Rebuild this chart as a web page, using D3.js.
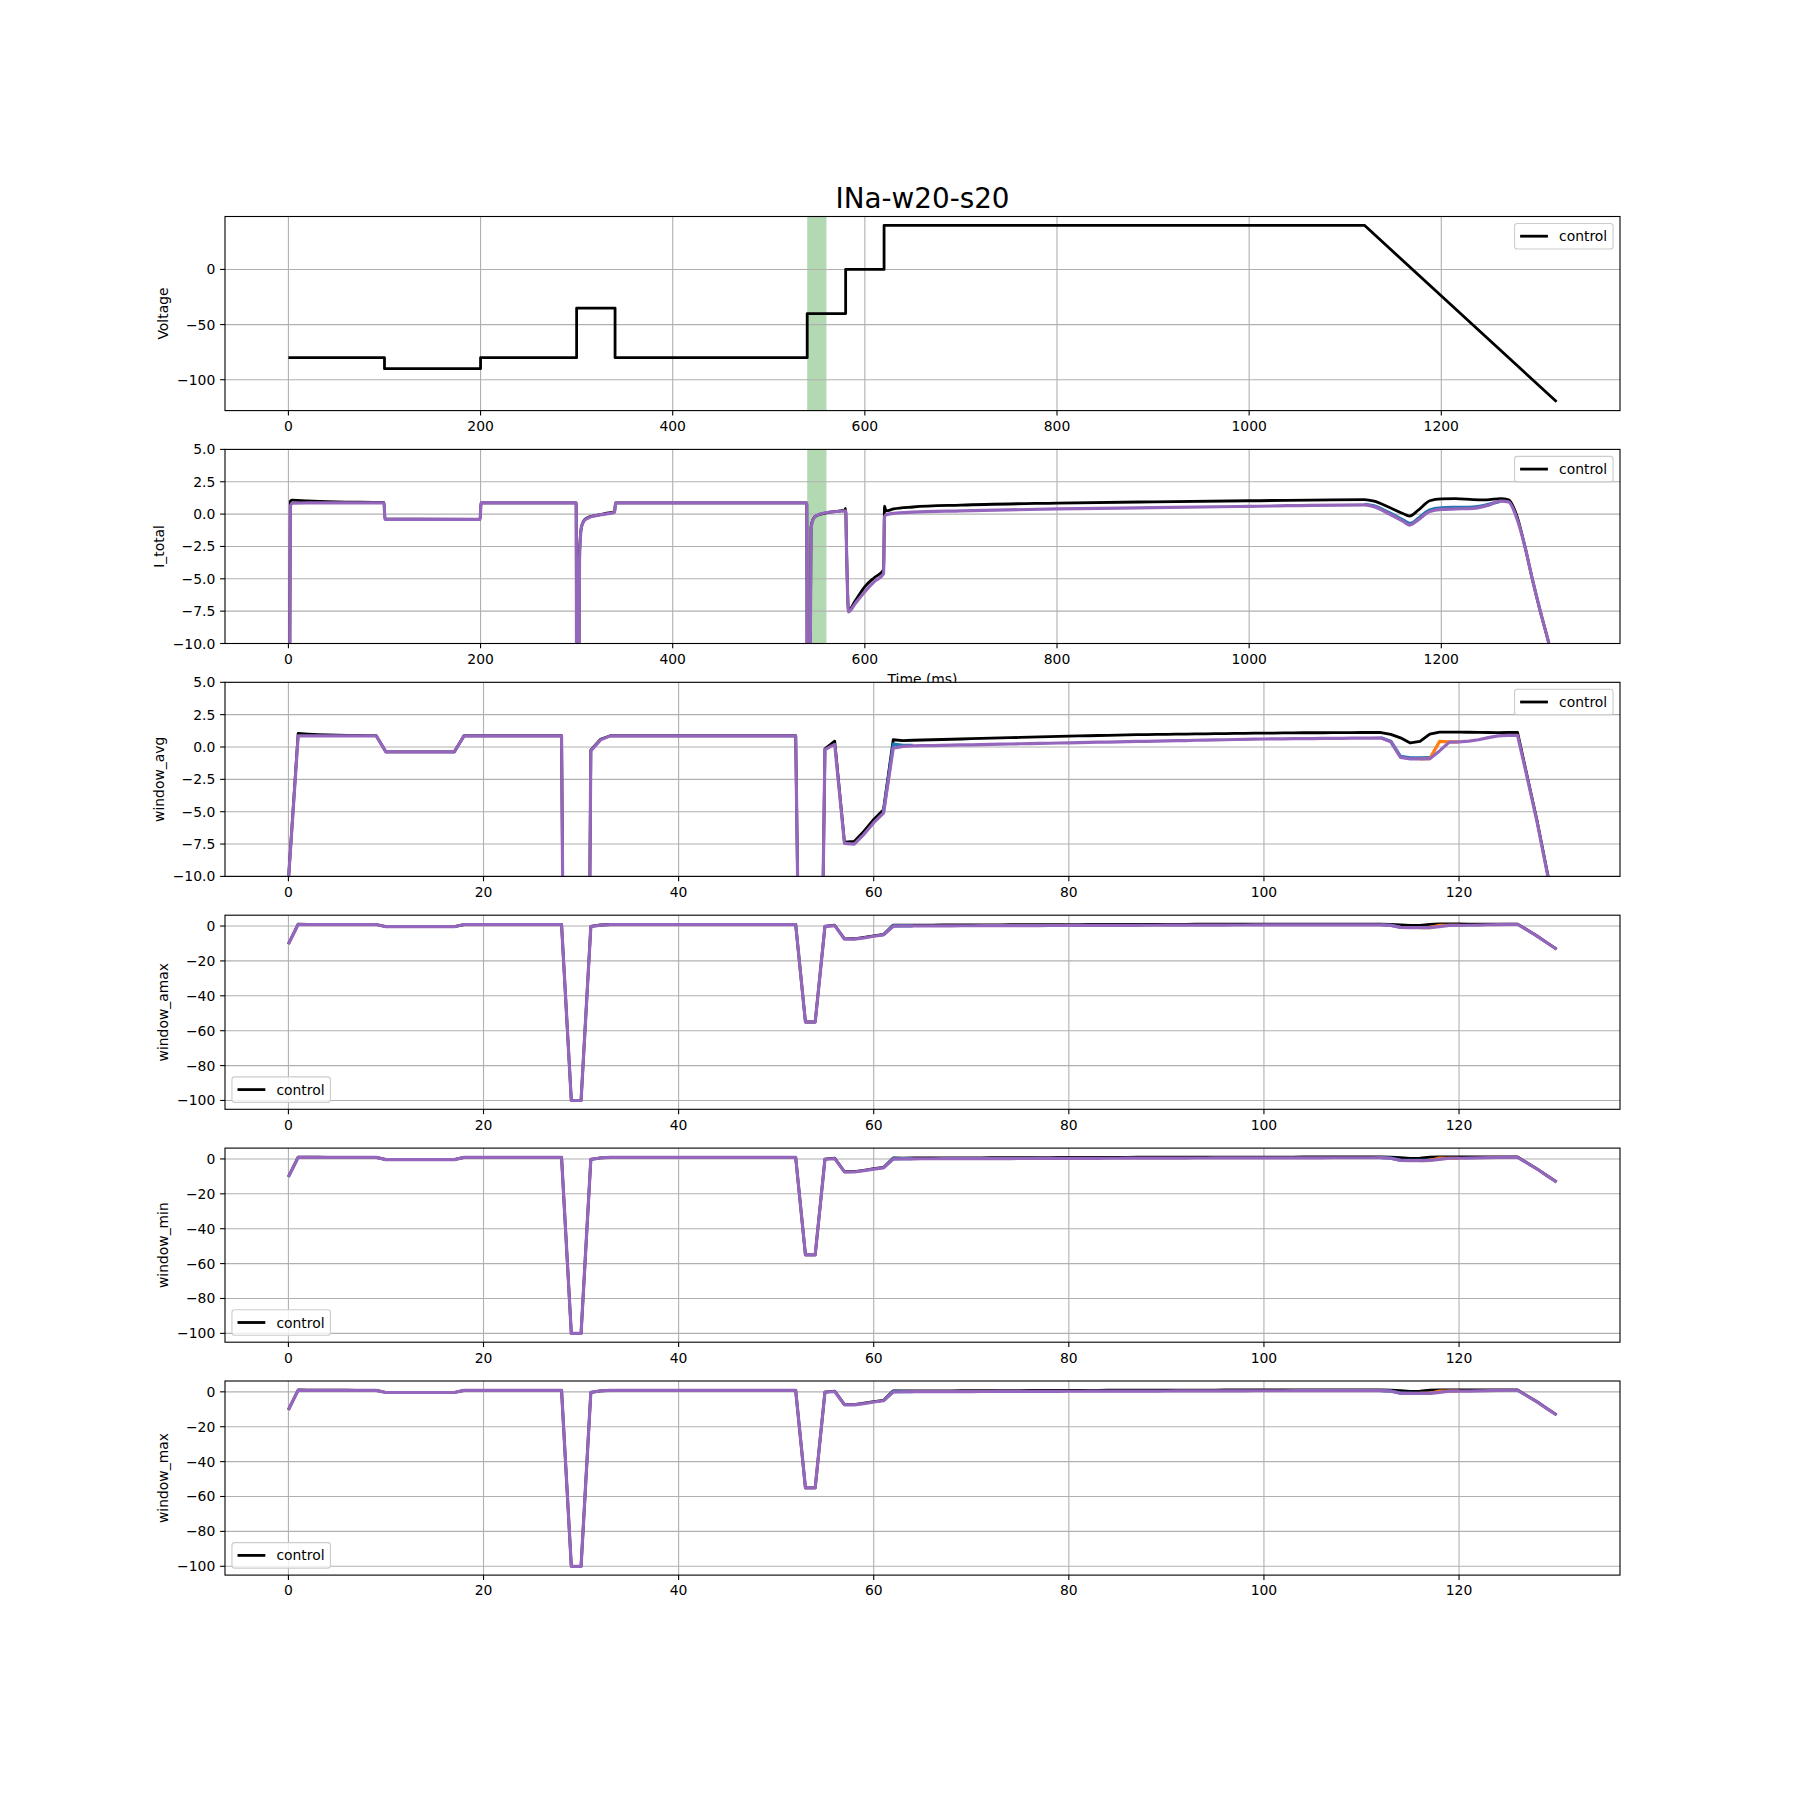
<!DOCTYPE html>
<html><head><meta charset="utf-8">
<script src="https://cdn.jsdelivr.net/npm/d3@7"></script>
<style>
body{margin:0;background:#fff}
svg{display:block}
text{font-family:"DejaVu Sans",sans-serif;fill:#000}
</style>
</head><body>
<svg id="chart" width="1800" height="1800"></svg>
<script>
// ---------------- DATA ----------------
const chartTitle = "INa-w20-s20";
const panelLabels = ["Voltage", "I_total", "window_avg", "window_amax", "window_min", "window_max"];
const timeAxisLabel = "Time (ms)";
const legendLabel = "control";

const timeTicks = [0, 200, 400, 600, 800, 1000, 1200];
const indexTicks = [0, 20, 40, 60, 80, 100, 120];
const voltageTicks = [-100, -50, 0];
const currentTicks = [-10, -7.5, -5, -2.5, 0, 2.5, 5];
const windowTicks = [-100, -80, -60, -40, -20, 0];
const currentLimits = [-10, 5];

const highlightStart = 540;
const highlightEnd = 560;

// voltage protocol (vertices)
const voltageTime  = [0, 100, 100, 200, 200, 300, 300, 340, 340, 540, 540, 580, 580, 620, 620, 1120, 1320];
const voltageValue = [-80, -80, -90, -90, -80, -80, -35, -35, -80, -80, -40, -40, 0, 0, 40, 40, -120];

// total current
const currentTime = [0, 2, 4, 20, 50, 99.5, 100.5, 199.5, 200.5, 299.5, 300.5, 303, 305, 308, 312, 320, 330, 339.5, 340.5, 539.5,
  540.5, 544, 546, 550, 560, 579, 580, 581, 583, 590, 600, 610, 619.5, 620.5, 622, 630, 650, 700, 800, 900,
  1000, 1120, 1130, 1145, 1160, 1167, 1176, 1188, 1200, 1215, 1233, 1247, 1262, 1270, 1278, 1287, 1295, 1303, 1312, 1320];
const currentControl = [-40, 1.0, 1.08, 1.02, 0.95, 0.9, -0.38, -0.4, 0.86, 0.86, -40, -3, -1.0, -0.45, -0.25, -0.1, 0.05, 0.18, 0.87, 0.87,
  -40, -1.0, -0.4, -0.1, 0.1, 0.3, 0.45, -3, -7.45, -6.7, -5.6, -4.9, -4.3, 0.62, 0.25, 0.4, 0.55, 0.7, 0.85, 0.95,
  1.03, 1.12, 1.0, 0.55, 0.05, -0.15, 0.3, 1.03, 1.18, 1.2, 1.12, 1.1, 1.2, 1.1, 0.0, -2.5, -5.1, -7.5, -10, -12.5];
const currentModel = [-40, 0.6, 0.84, 0.86, 0.86, 0.86, -0.4, -0.4, 0.86, 0.86, -40, -3.5, -1.0, -0.5, -0.3, -0.12, 0.0, 0.15, 0.86, 0.86,
  -40, -1.2, -0.45, -0.1, 0.12, 0.25, 0.26, -3, -7.55, -6.9, -6.0, -5.2, -4.6, -0.2, -0.05, 0.05, 0.15, 0.25, 0.4, 0.5,
  0.6, 0.72, 0.58, 0.05, -0.55, -0.85, -0.45, 0.2, 0.36, 0.4, 0.44, 0.64, 1.0, 0.95, -0.2, -2.5, -5.1, -7.5, -10, -12.5];
const currentBlueTime = [1120, 1130, 1145, 1160, 1168, 1176, 1188, 1200, 1215, 1233, 1247, 1262];
const currentBlue = [0.76, 0.64, 0.14, -0.45, -0.72, -0.33, 0.32, 0.48, 0.52, 0.55, 0.72, 1.0];

// windowed statistics (one value per window index 0..130)
const windowControl = [-10.3,
  1.05, 1.0, 0.96, 0.93, 0.91, 0.9, 0.89, 0.88, 0.88,
  -0.38, -0.38, -0.38, -0.38, -0.38, -0.38, -0.38, -0.38,
  0.87, 0.87, 0.87, 0.87, 0.87, 0.87, 0.87, 0.87, 0.87, 0.87, 0.87,
  -100, -100, -0.25, 0.6,
  0.87, 0.87, 0.87, 0.87, 0.87, 0.87, 0.87, 0.87, 0.87, 0.87, 0.87, 0.87, 0.87, 0.87, 0.87, 0.87, 0.87, 0.87, 0.87, 0.87,
  -55, -55, -0.15, 0.45,
  -7.35, -7.3, -6.5, -5.6, -4.85,
  0.56, 0.5,
  0.52, 0.54, 0.56, 0.58, 0.6, 0.62, 0.64, 0.66, 0.68, 0.7, 0.72, 0.74, 0.76, 0.78, 0.8, 0.82, 0.84, 0.86, 0.87, 0.89,
  0.9, 0.92, 0.93, 0.95, 0.96, 0.97, 0.98, 0.99, 1.0, 1.01, 1.02, 1.03, 1.04, 1.05, 1.06, 1.07, 1.08, 1.08, 1.09, 1.09,
  1.1, 1.1, 1.1, 1.11, 1.11, 1.11, 1.12, 1.12, 1.12,
  0.97, 0.71, 0.31, 0.43, 1.0, 1.15, 1.15, 1.15, 1.14, 1.13, 1.12, 1.11, 1.12, 1.12, -2.3, -5.7, -9.5, -13.2];
const windowModel = [-10.3,
  0.86, 0.86, 0.86, 0.86, 0.86, 0.86, 0.86, 0.86, 0.86,
  -0.38, -0.38, -0.38, -0.38, -0.38, -0.38, -0.38, -0.38,
  0.86, 0.86, 0.86, 0.86, 0.86, 0.86, 0.86, 0.86, 0.86, 0.86, 0.86,
  -100, -100, -0.3, 0.55,
  0.86, 0.86, 0.86, 0.86, 0.86, 0.86, 0.86, 0.86, 0.86, 0.86, 0.86, 0.86, 0.86, 0.86, 0.86, 0.86, 0.86, 0.86, 0.86, 0.86,
  -55, -55, -0.2, 0.2,
  -7.45, -7.5, -6.75, -5.85, -5.1,
  -0.1, 0.05,
  0.08, 0.1, 0.11, 0.13, 0.14, 0.16, 0.17, 0.19, 0.2, 0.22, 0.23, 0.25, 0.26, 0.28, 0.29, 0.31, 0.32, 0.34, 0.35, 0.37,
  0.38, 0.4, 0.41, 0.43, 0.44, 0.46, 0.47, 0.49, 0.5, 0.52, 0.53, 0.55, 0.56, 0.58, 0.59, 0.61, 0.62,
  0.63, 0.63, 0.64, 0.65, 0.65, 0.66, 0.67, 0.67, 0.68, 0.69, 0.69, 0.7,
  0.4, -0.8, -0.92, -0.92, -0.9, -0.3, 0.38, 0.4, 0.45, 0.56, 0.72, 0.86, 0.9, 0.9, -2.4, -5.8, -9.6, -13.3];
const windowBlueIndexA = [61, 62, 63, 64];
const windowBlueA = [-5.05, 0.22, 0.12, 0.12];
const windowBlueIndexB = [112, 113, 114, 115, 116, 117];
const windowBlueB = [0.72, 0.45, -0.72, -0.84, -0.84, -0.82];
const windowOrangeIndex = [116, 117, 118, 119, 120];
const windowOrange = [-0.92, -0.9, 0.43, 0.4, 0.4];

// ---------------- LAYOUT / STYLE ----------------
const W = 1800;
const L = 225, R = 1620, TOP0 = 216.5, PITCH = 232.9, H = 194.1;
const FS = 13.9;
const LW_CONTROL = 2.8, LW_MODEL = 3.2;
const C = {control: "#000000", blue: "#1f77b4", orange: "#ff7f0e", purple: "#9467bd",
  grid: "#b0b0b0", span: "#008000"};
const svg = d3.select("#chart");
svg.append("rect").attr("width", W).attr("height", W).attr("fill", "#fff");

function padded(ext) {
  const r = ext[1] - ext[0];
  return [ext[0] - 0.05 * r, ext[1] + 0.05 * r];
}
const fmtInt = d3.format("d");
const fmt1 = d3.format(".1f");

function zip(xs, ys) { return xs.map((x, i) => [x, ys[i]]); }
function indexed(ys) { return ys.map((y, i) => [i, y]); }

const timeDomain = padded(d3.extent(voltageTime.concat(currentTime)));
const indexDomain = padded([0, windowControl.length - 1]);
const voltageDomain = padded(d3.extent(voltageValue));
const windowDomain = padded(d3.extent(windowControl.concat(windowModel)));

const windowSeries = [
  {pts: indexed(windowControl), color: C.control, lw: LW_CONTROL},
  {pts: zip(windowBlueIndexA, windowBlueA), color: C.blue, lw: LW_MODEL},
  {pts: zip(windowBlueIndexB, windowBlueB), color: C.blue, lw: LW_MODEL},
  {pts: zip(windowOrangeIndex, windowOrange), color: C.orange, lw: LW_MODEL},
  {pts: indexed(windowModel), color: C.purple, lw: LW_MODEL}
];

const panels = [
  {xdom: timeDomain, xticks: timeTicks, ydom: voltageDomain, yticks: voltageTicks, yfmt: fmtInt, span: true, legend: "ur",
   series: [{pts: zip(voltageTime, voltageValue), color: C.control, lw: LW_CONTROL}]},
  {xdom: timeDomain, xticks: timeTicks, ydom: currentLimits, yticks: currentTicks, yfmt: fmt1, span: true, legend: "ur", xlabel: true, smooth: true,
   series: [{pts: zip(currentTime, currentControl), color: C.control, lw: LW_CONTROL},
            {pts: zip(currentBlueTime, currentBlue), color: C.blue, lw: LW_MODEL},
            {pts: zip(currentTime, currentModel), color: C.purple, lw: LW_MODEL}]},
  {xdom: indexDomain, xticks: indexTicks, ydom: currentLimits, yticks: currentTicks, yfmt: fmt1, legend: "ur", series: windowSeries},
  {xdom: indexDomain, xticks: indexTicks, ydom: windowDomain, yticks: windowTicks, yfmt: fmtInt, legend: "ll", series: windowSeries},
  {xdom: indexDomain, xticks: indexTicks, ydom: windowDomain, yticks: windowTicks, yfmt: fmtInt, legend: "ll", series: windowSeries},
  {xdom: indexDomain, xticks: indexTicks, ydom: windowDomain, yticks: windowTicks, yfmt: fmtInt, legend: "ll", series: windowSeries}
];

// title
svg.append("text").attr("x", (L + R) / 2).attr("y", 208.2).attr("text-anchor", "middle")
  .attr("font-size", 27.8).text(chartTitle);

panels.forEach((p, i) => {
  const top = TOP0 + i * PITCH, bottom = top + H;
  const x = d3.scaleLinear().domain(p.xdom).range([L, R]);
  const y = d3.scaleLinear().domain(p.ydom).range([bottom, top]);
  const g = svg.append("g");
  g.append("rect").attr("x", L).attr("y", top).attr("width", R - L).attr("height", H).attr("fill", "#fff");
  const cid = "clip" + i;
  g.append("clipPath").attr("id", cid).append("rect")
    .attr("x", L).attr("y", top).attr("width", R - L).attr("height", H);
  const plot = g.append("g").attr("clip-path", `url(#${cid})`);
  if (p.span) {
    plot.append("rect").attr("x", x(highlightStart)).attr("y", top)
      .attr("width", x(highlightEnd) - x(highlightStart)).attr("height", H)
      .attr("fill", C.span).attr("fill-opacity", 0.3);
  }
  // grid
  plot.selectAll(".gx").data(p.xticks).enter().append("line")
    .attr("x1", d => x(d)).attr("x2", d => x(d)).attr("y1", top).attr("y2", bottom)
    .attr("stroke", C.grid).attr("stroke-width", 1.1);
  plot.selectAll(".gy").data(p.yticks).enter().append("line")
    .attr("y1", d => y(d)).attr("y2", d => y(d)).attr("x1", L).attr("x2", R)
    .attr("stroke", C.grid).attr("stroke-width", 1.1);
  // series
  const line = d3.line().x(d => x(d[0])).y(d => y(d[1]))
    .curve(p.smooth ? d3.curveMonotoneX : d3.curveLinear);
  p.series.forEach(s => {
    plot.append("path").attr("d", line(s.pts)).attr("fill", "none")
      .attr("stroke", s.color).attr("stroke-width", s.lw)
      .attr("stroke-linejoin", "round").attr("stroke-linecap", "butt");
  });
  // spines
  g.append("rect").attr("x", L).attr("y", top).attr("width", R - L).attr("height", H)
    .attr("fill", "none").attr("stroke", "#000").attr("stroke-width", 1.1);
  // x ticks
  p.xticks.forEach(t => {
    g.append("line").attr("x1", x(t)).attr("x2", x(t)).attr("y1", bottom).attr("y2", bottom + 4.86)
      .attr("stroke", "#000").attr("stroke-width", 1.1);
    g.append("text").attr("x", x(t)).attr("y", bottom + 20.3).attr("text-anchor", "middle")
      .attr("font-size", FS).text(fmtInt(t));
  });
  // y ticks
  let maxW = 0;
  p.yticks.forEach(t => {
    g.append("line").attr("x1", L - 4.86).attr("x2", L).attr("y1", y(t)).attr("y2", y(t))
      .attr("stroke", "#000").attr("stroke-width", 1.1);
    const tx = g.append("text").attr("x", L - 9.72).attr("y", y(t) + 5.0).attr("text-anchor", "end")
      .attr("font-size", FS).text(p.yfmt(t));
    maxW = Math.max(maxW, tx.node().getComputedTextLength());
  });
  // y label
  const lx = L - 9.72 - maxW - 5.56 - 3.3;
  g.append("text").attr("transform", `translate(${lx},${(top + bottom) / 2}) rotate(-90)`)
    .attr("text-anchor", "middle").attr("font-size", FS).text(panelLabels[i]);
  // x label (partly hidden by the next panel)
  if (p.xlabel) {
    g.append("text").attr("x", (L + R) / 2).attr("y", bottom + 40.2).attr("text-anchor", "middle")
      .attr("font-size", FS).text(timeAxisLabel);
  }
  // legend
  const lgW = 98.5, lgH = 25.5;
  const lgX = p.legend === "ur" ? R - 6.95 - lgW : L + 6.95;
  const lgY = p.legend === "ur" ? top + 6.95 : bottom - 6.95 - lgH;
  const lg = g.append("g");
  lg.append("rect").attr("x", lgX).attr("y", lgY).attr("width", lgW).attr("height", lgH)
    .attr("rx", 2.8).attr("fill", "#fff").attr("fill-opacity", 0.8)
    .attr("stroke", "#cccccc").attr("stroke-width", 1.1);
  const cy = lgY + lgH / 2;
  lg.append("line").attr("x1", lgX + 5.56).attr("x2", lgX + 5.56 + 27.8).attr("y1", cy).attr("y2", cy)
    .attr("stroke", C.control).attr("stroke-width", LW_CONTROL);
  lg.append("text").attr("x", lgX + 5.56 + 27.8 + 11.1).attr("y", cy + 5.0)
    .attr("font-size", FS).text(legendLabel);
});
</script>
</body></html>
